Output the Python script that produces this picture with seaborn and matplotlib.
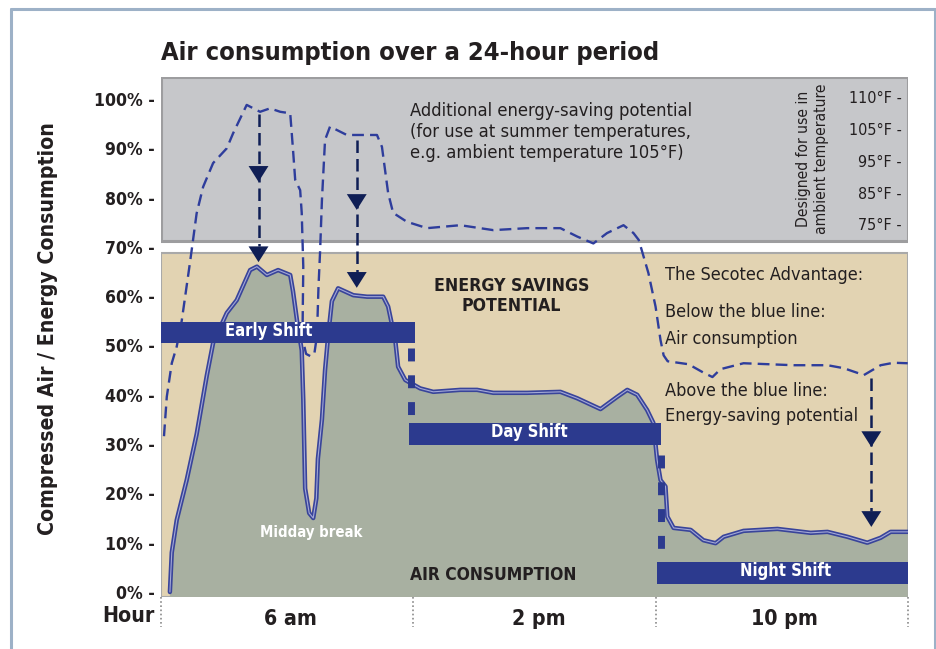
import seaborn as sns
import matplotlib.pyplot as plt
from matplotlib import font_manager
from matplotlib.patches import Rectangle
from matplotlib.lines import Line2D

# air consumption (solid curve), hour offset from 6 am / percent
use_hour = [0.27, 0.33, 0.49, 0.81, 1.13, 1.46, 1.66, 2.10, 2.42, 2.85, 3.07, 3.39, 3.75,
            4.14, 4.23, 4.36, 4.51, 4.56, 4.62, 4.75, 4.88, 4.98, 5.03, 5.16, 5.26, 5.36,
            5.48, 5.68, 6.17, 6.61, 7.13, 7.29, 7.52, 7.61, 7.84, 8.32, 8.74, 9.61, 10.15,
            10.67, 11.76, 12.83, 13.37, 14.12, 14.66, 14.98, 15.30, 15.62, 15.82, 15.94,
            16.05, 16.21, 16.27, 16.47, 17.02, 17.43, 17.82, 18.08, 18.72, 19.81, 20.88,
            21.42, 22.06, 22.70, 23.13, 23.45, 24.0]
use_pct = [0, 8, 14.6, 22.7, 32, 44, 50.5, 56.6, 59.2, 65.3, 66, 64.3, 65.3,
           64.3, 61, 55, 49, 39, 21, 16, 15, 19, 27, 35, 45, 52,
           59, 61.6, 60.2, 59.9, 59.9, 57.9, 51, 45.7, 43, 41.3, 40.6, 41, 41,
           40.4, 40.4, 40.6, 39.3, 37.1, 39.6, 41, 40, 36.9, 34.3, 26.8,
           22.7, 21.4, 15.3, 13, 12.6, 10.5, 9.9, 11.2, 12.4, 12.8, 12,
           12.2, 11.2, 10, 11, 12.2, 12.2]

# summer potential (dashed curve)
summer_hour = [0.08, 0.17, 0.33, 0.49, 0.65, 0.92, 1.13, 1.34, 1.66, 2.10, 2.30, 2.74, 3.17,
               3.49, 3.82, 4.14, 4.23, 4.30, 4.46, 4.51, 4.56, 4.54, 4.57, 4.65, 4.80, 4.92,
               5.00, 5.05, 5.10, 5.16, 5.26, 5.42, 5.96, 6.93, 7.09, 7.29, 7.45, 7.89, 8.54,
               9.61, 10.67, 11.76, 12.83, 13.37, 13.89, 14.33, 14.86, 15.18, 15.35, 15.66,
               15.89, 16.05, 16.15, 16.28, 16.95, 17.43, 17.72, 17.98, 18.72, 20.33, 21.42,
               21.94, 22.59, 23.13, 23.55, 24.0]
summer_pct = [31.6, 39.6, 46.4, 49.8, 55, 67, 76.8, 82.2, 87, 90, 93, 98.8, 97.4,
              98.1, 97.4, 97.1, 89.7, 83.6, 81.5, 76.9, 66, 55, 50.5, 48.3, 47.8, 48.5,
              52, 62, 69, 79.5, 91.7, 94.4, 92.7, 92.7, 90.3, 80.9, 76.9, 75.1, 73.8,
              74.4, 73.4, 73.8, 73.8, 72.1, 70.7, 72.8, 74.4, 72.8, 71.4, 64.7,
              57.9, 51.1, 48, 46.8, 46.2, 44.5, 43.6, 45.2, 46.4, 46, 46,
              45.4, 44, 46, 46.5, 46.4]

pct_ticks = list(range(0, 101, 10))
temp_labels = ["110°F", "105°F", "95°F", "85°F", "75°F"]
temp_pos = [100.1, 93.7, 87.2, 80.7, 74.3]

shift_names = ["Early Shift", "Day Shift", "Night Shift"]
shift_start = [0.0, 7.95, 15.94]
shift_end = [8.16, 16.08, 24.0]
shift_low = [50.6, 29.8, 1.6]
shift_high = [54.8, 34.2, 6.0]
shift_label_x = [3.46, 11.82, 20.07]
shift_label_y = [53.0, 32.4, 4.3]

hour_labels = ["6 am", "2 pm", "10 pm"]
hour_label_x = [4.15, 12.13, 20.04]
divider_hours = [0, 8.1, 15.92, 24]

arrow_x = [3.12, 6.28, 22.83]
arrow_top = [97.0, 91.7, 43.4]
arrow_mid = [83.2, 77.5, 29.4]
arrow_tip = [66.9, 61.7, 13.2]

connector_x = [8.03, 16.05]
connector_top = [49.4, 27.8]
connector_bottom = [35.9, 8.5]

sns.set_theme(style="white")

# look for narrow / condensed faces (regular and bold), like the original's condensed grotesque
faces = {}
for f in font_manager.fontManager.ttflist:
    if "Narrow" in f.name or "Condensed" in f.name or f.stretch in ("condensed", "semi-condensed"):
        w = f.weight if isinstance(f.weight, int) else font_manager.weight_dict.get(f.weight, 400)
        faces.setdefault((f.name, f.stretch), set()).add(w)
reg_face = next((k for k, ws in faces.items() if min(ws) <= 500), ("Liberation Sans", "normal"))
bold_face = next((k for k, ws in faces.items() if max(ws) >= 600), ("Liberation Sans", "normal"))
plt.rcParams["font.family"] = [reg_face[0], "DejaVu Sans"]
REG = dict(family=[reg_face[0], "DejaVu Sans"], fontstretch=reg_face[1])
BOLD = dict(family=[bold_face[0], "DejaVu Sans"], fontstretch=bold_face[1], fontweight="bold")

DARK = "#231f20"
BLUE = "#2c3a8e"
NAVY = "#0f1e55"

fig = plt.figure(figsize=(9.37, 6.49), dpi=100)
renderer = fig.canvas.get_renderer()


def fit(t, target, vertical=False):
    # scale the font so the text spans the same pixels as in the original
    bb = t.get_window_extent(renderer)
    cur = bb.height if vertical else bb.width
    t.set_fontsize(t.get_fontsize() * target / cur)
    return t.get_fontsize()


ax = fig.add_axes([161.5 / 937, 0.08023, 746.2 / 937, 0.80143])
ax.set_xlim(0, 24)
ax.set_ylim(-1, 104.5)
for s in ax.spines.values():
    s.set_visible(False)

# outer frame (bottom edge is off the picture)
for xs, ys in [([11, 11], [0, 640]), ([11, 935], [640, 640]), ([935, 935], [640, 0])]:
    fig.add_artist(Line2D([x / 937 for x in xs], [y / 649 for y in ys], color="#9db1c7", lw=2.2))

# panels
ax.add_patch(Rectangle((0, 71.1), 24, 33.4, facecolor="#c6c7ca", edgecolor="#9d9d9f", lw=2.2, zorder=1))
ax.add_patch(Rectangle((0, -1), 24, 69.8, facecolor="#e2d3b2", edgecolor="#a9a9a9", lw=1.5, zorder=1))

# air consumption area
ax.fill(use_hour + [24, use_hour[0]], use_pct + [-1, -1], color="#a8b0a1", lw=0, zorder=2)
sns.lineplot(x=use_hour, y=use_pct, sort=False, estimator=None, color="#39449a", lw=3.2, ax=ax, zorder=4)
sns.lineplot(x=use_hour, y=use_pct, sort=False, estimator=None, color="#a3a8d6", lw=0.8, ax=ax, zorder=5)

# summer potential
sns.lineplot(x=summer_hour, y=summer_pct, sort=False, estimator=None, color="#2e3d9c",
             lw=1.7, ax=ax, zorder=3)
ax.lines[-1].set_dashes((5, 2.6))

# shift bars
shift_size = None
for name, x0, x1, lo, hi, lx, ly in zip(shift_names, shift_start, shift_end, shift_low,
                                        shift_high, shift_label_x, shift_label_y):
    ax.add_patch(Rectangle((x0, lo), x1 - x0, hi - lo, facecolor=BLUE, lw=0, zorder=6))
    t = ax.text(lx, ly, name, color="white", fontsize=15, ha="center", va="center", zorder=7, **BOLD)
    if shift_size is None:
        shift_size = fit(t, 88)
    t.set_fontsize(shift_size)
for cx, top, bot in zip(connector_x, connector_top, connector_bottom):
    ax.plot([cx, cx], [top, bot], color=BLUE, lw=5, dashes=(1.86, 2.0),
            dash_capstyle="butt", zorder=6)

# arrows
hw, hh = 0.32, 3.2
for x, top, mid, tip in zip(arrow_x, arrow_top, arrow_mid, arrow_tip):
    ax.plot([x, x], [top, tip + hh], color=NAVY, lw=1.8, dashes=(5, 2.4), zorder=6)
    for t in (mid, tip):
        ax.fill([x - hw, x + hw, x], [t + hh, t + hh, t], color=NAVY, lw=0, zorder=7)

# y ticks
probe = fig.text(0, 0, "100% -", fontsize=16, **BOLD)
tick_size = fit(probe, 61)
probe.remove()
ax.set_yticks(pct_ticks)
ax.set_yticklabels([f"{v}% -" for v in pct_ticks], fontsize=tick_size, color=DARK, **BOLD)
ax.set_xticks([])
ax.tick_params(axis="y", length=0, pad=4.5)

# bottom hour labels
hour_size = None
for lab, x in zip(hour_labels, hour_label_x):
    t = ax.text(x, -5.5, lab, fontsize=19, color=DARK, ha="center", va="center",
                clip_on=False, **BOLD)
    if hour_size is None:
        hour_size = fit(t, 53)
    t.set_fontsize(hour_size)
ax.text(-0.21, -4.9, "Hour", fontsize=hour_size, color=DARK, ha="right", va="center",
        clip_on=False, **BOLD)
for x in divider_hours:
    ax.plot([x, x], [-1, -7.1], color="#8a8a8a", lw=1.2, ls=(0, (1, 1.5)), clip_on=False, zorder=1)

# temperature scale
temp_size = None
for lab, y in zip(temp_labels, temp_pos):
    t = ax.text(23.8, y, f"{lab} -", fontsize=13, color=DARK, ha="right", va="center", **REG)
    if temp_size is None:
        temp_size = fit(t, 52.4)
    t.set_fontsize(temp_size)
t = ax.text(20.94, 87.8, "Designed for use in\nambient temperature", rotation=90, fontsize=13,
            color=DARK, ha="center", va="center", multialignment="center", linespacing=1.3, **REG)
fit(t, 150, vertical=True)

# annotations
t = ax.text(7.98, 99.3, "Additional energy-saving potential\n(for use at summer temperatures,\n"
            "e.g. ambient temperature 105°F)", fontsize=15, color=DARK, ha="left", va="top",
            linespacing=1.2, **REG)
fit(t, 284)
t = ax.text(11.25, 60.1, "ENERGY SAVINGS\nPOTENTIAL", fontsize=16, color=DARK,
            ha="center", va="center", linespacing=1.15, **BOLD)
fit(t, 156)
t = ax.text(10.68, 3.4, "AIR CONSUMPTION", fontsize=16, color=DARK, ha="center", va="center", **BOLD)
fit(t, 168)
t = ax.text(4.81, 12.0, "Midday break", fontsize=13, color="white", ha="center", va="center",
            zorder=7, **BOLD)
fit(t, 102)
sec_size = None
for txt, y in [("The Secotec Advantage:", 64.3), ("Below the blue line:", 56.7),
               ("Air consumption", 51.3), ("Above the blue line:", 40.8),
               ("Energy-saving potential", 35.8)]:
    t = ax.text(16.21, y, txt, fontsize=15, color=DARK, ha="left", va="center", zorder=7, **REG)
    if sec_size is None:
        sec_size = fit(t, 199)
    t.set_fontsize(sec_size)

t = fig.text(161 / 937, 1 - 60 / 649, "Air consumption over a 24-hour period", fontsize=23,
             color=DARK, ha="left", va="baseline", **BOLD)
fit(t, 501)
t = fig.text(48 / 937, 1 - 328.5 / 649, "Compressed Air / Energy Consumption", fontsize=20,
             color=DARK, rotation=90, ha="center", va="center", **BOLD)
fit(t, 413, vertical=True)

fig.savefig("out.png", dpi=100)
